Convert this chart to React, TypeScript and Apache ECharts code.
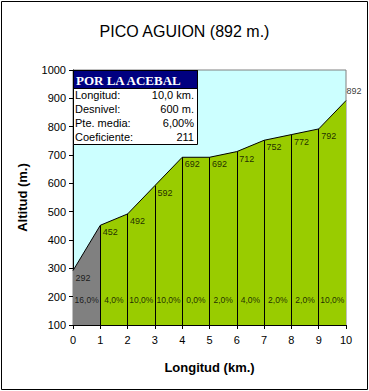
import React, { useEffect, useRef } from "react";
import * as echarts from "echarts";

const km = [0, 1, 2, 3, 4, 5, 6, 7, 8, 9, 10];
const altitude = [292, 452, 492, 592, 692, 692, 712, 752, 772, 792, 892];
const grades = ["16,0%", "4,0%", "10,0%", "10,0%", "0,0%", "2,0%", "4,0%", "2,0%", "2,0%", "10,0%"];
const gradeLabelAlt = 188;
const infoTitle = "POR LA ACEBAL";
const infoLabels = ["Longitud:", "Desnivel:", "Pte. media:", "Coeficiente:"];
const infoValues = ["10,0 km.", "600 m.", "6,00%", "211"];
const chartTitle = "PICO AGUION (892 m.)";

const SANS = "Liberation Sans, Arial, sans-serif";

export default function App() {
  const ref = useRef<HTMLDivElement>(null);
  useEffect(() => {
    if (!ref.current) return;
    const chart = echarts.init(ref.current, null, { renderer: "svg" });
    const pts = km.map((k, i) => [k, altitude[i]]);
    const infoGraphics: any[] = [
      { type: "rect", shape: { x: 73.5, y: 70.5, width: 124, height: 74 }, style: { fill: "#fff", stroke: "#000", lineWidth: 1 }, z: 100 },
      { type: "rect", shape: { x: 73.5, y: 70.5, width: 124, height: 18 }, style: { fill: "#000080", stroke: "#000", lineWidth: 1 }, z: 101 },
      { type: "text", x: 76, y: 80, style: { text: infoTitle, fill: "#fff", font: "bold 13px 'Liberation Serif', 'Times New Roman', serif", verticalAlign: "middle", align: "left" }, z: 102 },
    ];
    infoLabels.forEach((l, i) => {
      infoGraphics.push({ type: "text", x: 75, y: 95 + i * 14, style: { text: l, fill: "#000", font: `11px ${SANS}`, verticalAlign: "middle", align: "left" }, z: 102 });
      infoGraphics.push({ type: "text", x: 194, y: 95 + i * 14, style: { text: infoValues[i], fill: "#000", font: `11px ${SANS}`, verticalAlign: "middle", align: "right" }, z: 102 });
    });
    chart.setOption({
      animation: false,
      backgroundColor: "#fff",
      title: {
        text: chartTitle,
        left: "center",
        top: 18,
        textStyle: { fontFamily: SANS, fontSize: 16, fontWeight: "normal", color: "#000" },
      },
      grid: {
        left: 73, right: 23, top: 70, bottom: 66,
        show: true, backgroundColor: "#CCFFFF", borderColor: "#808080", borderWidth: 1,
      },
      xAxis: {
        type: "value", min: 0, max: 10, interval: 1,
        name: "Longitud (km.)", nameLocation: "middle", nameGap: 36,
        nameTextStyle: { fontFamily: SANS, fontSize: 13, fontWeight: "bold", color: "#000" },
        axisLine: { lineStyle: { color: "#000", width: 1 } },
        axisTick: { show: true, length: 4, lineStyle: { color: "#000" } },
        axisLabel: { fontFamily: SANS, fontSize: 11, color: "#000", margin: 9, formatter: (v: number) => String(v) },
        splitLine: { show: false },
      },
      yAxis: {
        type: "value", min: 100, max: 1000, interval: 100,
        name: "Altitud (m.)", nameLocation: "middle", nameGap: 44, nameRotate: 90,
        nameTextStyle: { fontFamily: SANS, fontSize: 13, fontWeight: "bold", color: "#000" },
        axisLine: { show: true, lineStyle: { color: "#000", width: 1 } },
        axisTick: { show: true, length: 4, lineStyle: { color: "#000" } },
        axisLabel: { fontFamily: SANS, fontSize: 11, color: "#000", margin: 7, formatter: (v: number) => String(v) },
        splitLine: { show: false },
      },
      series: [
        {
          type: "line", data: pts.slice(0, 2), symbol: "none", z: 2,
          lineStyle: { color: "#000", width: 1 },
          areaStyle: { color: "#808080", opacity: 1, origin: "start" },
        },
        {
          type: "line", data: pts.slice(1), symbol: "none", z: 2,
          lineStyle: { color: "#000", width: 1 },
          areaStyle: { color: "#99CC00", opacity: 1, origin: "start" },
          markLine: {
            silent: true, symbol: ["none", "none"], animation: false,
            label: { show: false },
            lineStyle: { color: "#000", width: 1, type: "solid" },
            data: km.slice(1, 10).map((k, i) => [{ coord: [k, 100] }, { coord: [k, altitude[i + 1]] }]),
          },
        },
        {
          type: "scatter", symbolSize: 1, z: 5,
          itemStyle: { color: "transparent" },
          data: pts.map((p, i) => ({
            value: p,
            label: i === pts.length - 1 ? { position: [1, -14] } : undefined,
          })),
          label: {
            show: true, position: [3, 3], align: "left", verticalAlign: "top",
            formatter: (p: any) => String(p.value[1]),
            fontFamily: SANS, fontSize: 9, color: "#000",
          },
        },
        {
          type: "scatter", symbolSize: 1, z: 5,
          itemStyle: { color: "transparent" },
          data: grades.map((g, i) => ({ value: [km[i] + 0.5, gradeLabelAlt], name: g })),
          label: {
            show: true, position: "inside",
            formatter: (p: any) => p.name,
            fontFamily: SANS, fontSize: 8.5, color: "#000",
          },
        },
      ],
      graphic: [
        { type: "rect", shape: { x: 1.5, y: 1.5, width: 366, height: 388 }, style: { fill: "none", stroke: "#000", lineWidth: 1 }, z: 100 },
        ...infoGraphics,
      ],
    });
    return () => chart.dispose();
  }, []);
  return <div ref={ref} style={{ position: "fixed", left: 0, top: 0, width: 369, height: 391 }} />;
}
